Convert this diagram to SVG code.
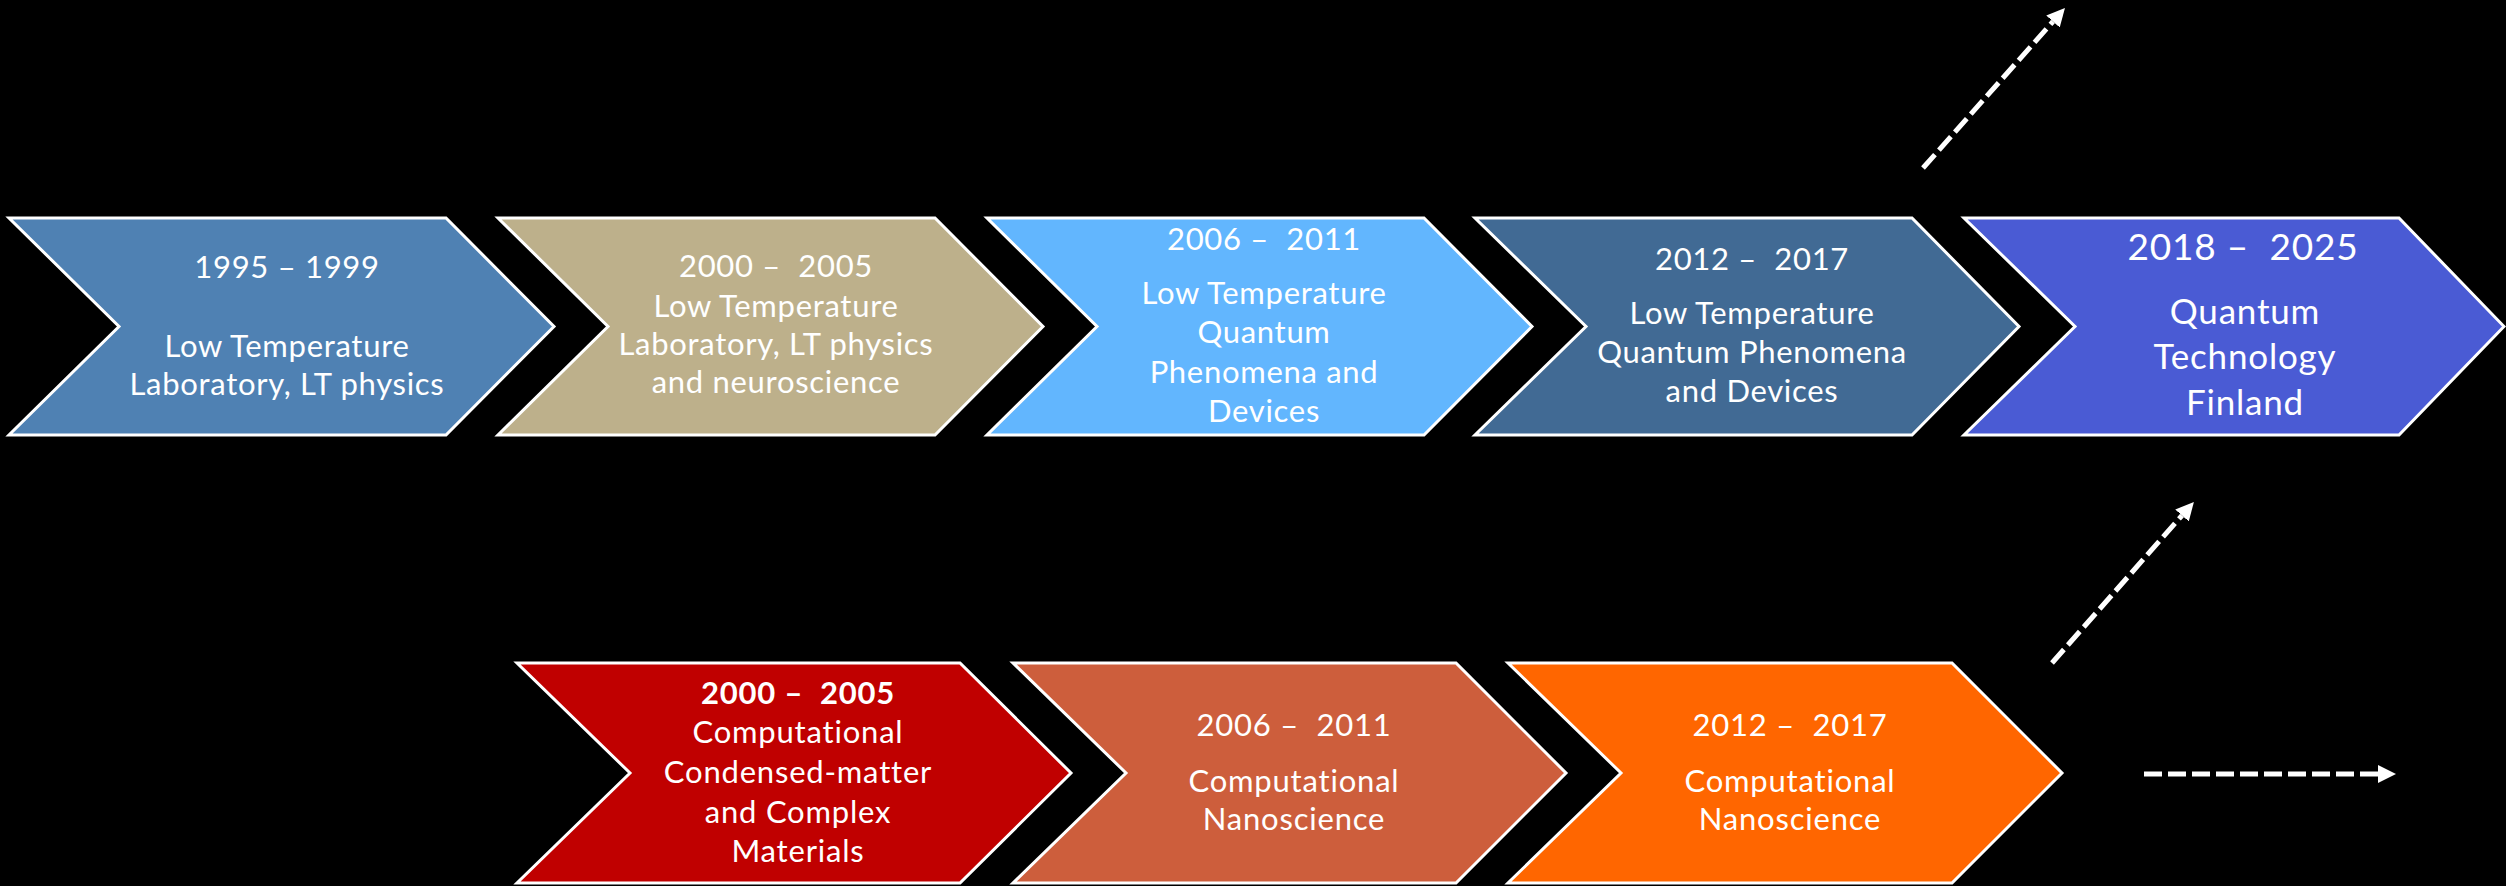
<svg xmlns="http://www.w3.org/2000/svg" width="2506" height="886" viewBox="0 0 2506 886">
<style>
.chev{stroke:#ffffff;stroke-width:3;stroke-linejoin:miter}
.t{font-family:Lato,"Noto Sans","Liberation Sans",sans-serif;fill:#ffffff;text-anchor:middle;white-space:pre}
.s31{font-size:31px;letter-spacing:0.7px}
.s35{font-size:35px;letter-spacing:0.8px}
.s37{font-size:37px;letter-spacing:0.8px}
.sb{font-size:31px;letter-spacing:0.8px}
.b{font-weight:bold}
.dash{stroke:#ffffff;stroke-width:5;stroke-dasharray:18 6;fill:none}
</style>
<defs>
<marker id="ah" markerUnits="userSpaceOnUse" markerWidth="18" markerHeight="18" viewBox="0 0 18 18" refX="0" refY="9" orient="auto">
<path d="M0,0 L18,9 L0,18 z" fill="#ffffff"/>
</marker>
</defs>
<rect x="0" y="0" width="2506" height="886" fill="#000000"/>

<g id="node-1995">
<polygon class="chev" fill="#4F81B3" points="9,218 446,218 554,326.5 446,435 9,435 119,326.5"/>
<text class="t s31" x="287" y="278">1995 – 1999</text>
<text class="t s31" x="287" y="357">Low Temperature</text>
<text class="t s31" x="287" y="395">Laboratory, LT physics</text>
</g>

<g id="node-2000-lt">
<polygon class="chev" fill="#BDB08B" points="498,218 935,218 1043,326.5 935,435 498,435 608,326.5"/>
<text class="t s31" x="776" y="277">2000 –  2005</text>
<text class="t s31" x="776" y="317">Low Temperature</text>
<text class="t s31" x="776" y="355">Laboratory, LT physics</text>
<text class="t s31" x="776" y="393">and neuroscience</text>
</g>

<g id="node-2006-lt">
<polygon class="chev" fill="#62B6FE" points="987,218 1424,218 1532,326.5 1424,435 987,435 1097,326.5"/>
<text class="t s31" x="1264" y="250">2006 –  2011</text>
<text class="t s31" x="1264" y="304">Low Temperature</text>
<text class="t s31" x="1264" y="343">Quantum</text>
<text class="t s31" x="1264" y="383">Phenomena and</text>
<text class="t s31" x="1264" y="422">Devices</text>
</g>

<g id="node-2012-lt">
<polygon class="chev" fill="#416A94" points="1475,218 1912,218 2019,326.5 1912,435 1475,435 1586,326.5"/>
<text class="t s31" x="1752" y="270">2012 –  2017</text>
<text class="t s31" x="1752" y="324">Low Temperature</text>
<text class="t s31" x="1752" y="363">Quantum Phenomena</text>
<text class="t s31" x="1752" y="402">and Devices</text>
</g>

<g id="node-2018">
<polygon class="chev" fill="#4A5BD4" points="1964,218 2399,218 2504,326.5 2399,435 1964,435 2075,326.5"/>
<text class="t s37" x="2243" y="260">2018 –  2025</text>
<text class="t s35" x="2245" y="324">Quantum</text>
<text class="t s35" x="2245" y="369">Technology</text>
<text class="t s35" x="2245" y="415">Finland</text>
</g>

<g id="node-2000-comp">
<polygon class="chev" fill="#C00000" points="517,663 960,663 1071,773 960,883 517,883 630,773"/>
<text class="t sb b" x="798" y="704">2000 –  2005</text>
<text class="t sb" x="798" y="743">Computational</text>
<text class="t sb" x="798" y="783">Condensed-matter</text>
<text class="t sb" x="798" y="823">and Complex</text>
<text class="t sb" x="798" y="862">Materials</text>
</g>

<g id="node-2006-comp">
<polygon class="chev" fill="#CD5E3C" points="1013,663 1456,663 1566,773 1456,883 1013,883 1126,773"/>
<text class="t sb" x="1294" y="736">2006 –  2011</text>
<text class="t sb" x="1294" y="792">Computational</text>
<text class="t sb" x="1294" y="830">Nanoscience</text>
</g>

<g id="node-2012-comp">
<polygon class="chev" fill="#FF6600" points="1508,663 1952,663 2062,773 1952,883 1508,883 1621,773"/>
<text class="t sb" x="1790" y="736">2012 –  2017</text>
<text class="t sb" x="1790" y="792">Computational</text>
<text class="t sb" x="1790" y="830">Nanoscience</text>
</g>

<g id="connectors">
<line class="dash" x1="1923" y1="168" x2="2053" y2="21.5" marker-end="url(#ah)"/>
<line class="dash" x1="2052" y1="663" x2="2182" y2="515.5" marker-end="url(#ah)"/>
<line class="dash" x1="2144" y1="774" x2="2378" y2="774" marker-end="url(#ah)"/>
</g>
</svg>
